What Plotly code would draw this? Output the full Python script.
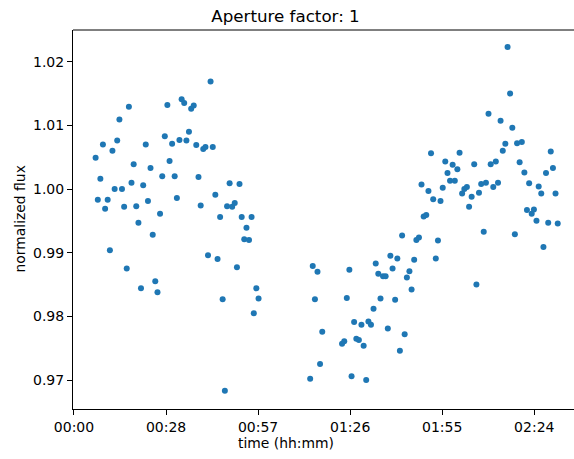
import pandas as pd
import plotly.graph_objects as go

# time since start (minutes) and normalized flux
time_min = [
    6.76, 7.45, 8.25, 9.05, 9.74, 10.54, 11.23, 12.03, 12.72, 13.52,
    14.21, 15.01, 15.69, 16.50, 17.18, 17.99, 18.67, 19.48, 20.16, 20.96,
    21.65, 22.45, 23.14, 23.94, 24.63, 25.43, 26.12, 26.92, 27.61, 28.41,
    29.21, 29.90, 30.70, 31.50, 32.19, 32.99, 33.68, 34.48, 35.17, 35.97,
    36.66, 37.46, 38.26, 38.95, 39.64, 40.44, 41.13, 41.93, 42.73, 43.42,
    44.22, 44.91, 45.71, 46.51, 47.20, 47.89, 48.69, 49.49, 50.29, 50.98,
    51.78, 52.47, 53.27, 53.96, 54.76, 55.56, 56.25, 57.05, 57.74,
    73.89, 74.69, 75.38, 76.18, 76.98, 77.67,
    83.86, 84.55, 85.35, 86.15, 86.84, 87.64, 88.33, 89.13, 89.93, 90.62,
    91.42, 92.11, 92.91, 93.71, 94.40, 95.20, 95.89, 96.69, 97.49, 98.18,
    98.98, 99.67, 100.47, 101.16, 101.96, 102.65, 103.45, 104.14, 104.94, 105.62,
    106.43, 107.11, 107.92, 108.72, 109.40, 110.21, 110.89, 111.70, 112.38, 113.19,
    113.87, 114.67, 115.36, 116.16, 116.85, 117.65, 118.46, 119.14, 119.94, 120.63,
    121.43, 122.12, 122.92, 123.61, 124.41, 125.21, 125.90, 126.70, 127.39, 128.19,
    128.88, 129.68, 130.37, 131.17, 131.97, 132.66, 133.46, 134.15, 134.95, 135.64,
    136.44, 137.13, 137.93, 138.62, 139.42, 140.11, 140.91, 141.71, 142.40, 143.20,
    143.89, 144.69, 145.38, 146.18, 146.87, 147.67, 148.36, 149.16, 149.84, 150.65,
    151.34,
]

flux = [
    1.0049, 0.9983, 1.0016, 1.0070, 0.9969, 0.9983, 0.9904, 1.0060, 1.0000, 1.0076,
    1.0109, 1.0000, 0.9972, 0.9875, 1.0129, 1.0010, 1.0039, 0.9973, 0.9947, 0.9844,
    1.0006, 1.0070, 0.9981, 1.0033, 0.9928, 0.9855, 0.9838, 0.9961, 1.0020, 1.0083,
    1.0132, 1.0044, 1.0071, 1.0020, 0.9986, 1.0077, 1.0141, 1.0135, 1.0076, 1.0090,
    1.0126, 1.0131, 1.0069, 1.0019, 0.9974, 1.0063, 1.0066, 0.9896, 1.0169, 1.0066,
    0.9991, 0.9890, 0.9956, 0.9827, 0.9683, 0.9973, 1.0009, 0.9972, 0.9978, 0.9877,
    1.0008, 0.9956, 0.9921, 0.9939, 0.9920, 0.9956, 0.9805, 0.9844, 0.9828,
    0.9702, 0.9879, 0.9827, 0.9870, 0.9725, 0.9776,
    0.9757, 0.9761, 0.9829, 0.9873, 0.9706, 0.9791, 0.9765, 0.9763, 0.9787, 0.9754,
    0.9700, 0.9792, 0.9787, 0.9812, 0.9883, 0.9867, 0.9828, 0.9863, 0.9863, 0.9781,
    0.9895, 0.9875, 0.9826, 0.9891, 0.9746, 0.9927, 0.9772, 0.9861, 0.9871, 0.9842,
    0.9889, 0.9920, 0.9924, 1.0007, 0.9957, 0.9959, 0.9997, 1.0056, 0.9984, 0.9891,
    0.9919, 0.9981, 1.0002, 1.0043, 1.0025, 1.0013, 1.0038, 1.0013, 1.0031, 1.0057,
    0.9993, 1.0000, 1.0003, 0.9972, 0.9988, 1.0039, 0.9850, 0.9994, 1.0008, 0.9933,
    1.0010, 1.0118, 1.0039, 1.0003, 1.0043, 1.0010, 1.0107, 1.0060, 1.0071, 1.0223,
    1.0150, 1.0096, 0.9929, 1.0072, 1.0042, 1.0074, 1.0026, 0.9967, 1.0009, 0.9961,
    0.9968, 0.9950, 1.0004, 0.9993, 0.9909, 1.0025, 0.9947, 1.0059, 1.0033, 0.9993,
    0.9946,
]

title_text = "Aperture factor: 1"
x_label = "time (hh:mm)"
y_label = "normalized flux"

base = pd.Timestamp("2000-01-01 00:00:00")
times = [base + pd.Timedelta(minutes=m) for m in time_min]

x_lo = base + pd.Timedelta(minutes=-0.31)
x_hi = base + pd.Timedelta(minutes=156.43)

font_family = "DejaVu Sans"

fig = go.Figure()
fig.add_trace(go.Scatter(
    x=times, y=flux, mode="markers",
    marker=dict(size=6, color="#1f77b4", line=dict(width=0)),
    showlegend=False,
))

fig.update_layout(
    width=574, height=459,
    margin=dict(l=73, r=0, t=30, b=50),
    paper_bgcolor="white", plot_bgcolor="white",
    font=dict(family=font_family, size=14, color="black"),
    title=dict(text=title_text, x=285.5 / 574, xref="container", xanchor="center",
               y=1 - 16 / 459, yref="container", yanchor="middle",
               font=dict(family=font_family, size=16.7, color="black")),
    xaxis=dict(
        type="date", range=[x_lo, x_hi],
        tick0=base, dtick=1728000, tickformat="%H:%M",
        showgrid=False, zeroline=False,
        showline=True, linecolor="black", linewidth=1,
        ticks="outside", ticklen=5, tickwidth=1, tickcolor="black",
        tickfont=dict(family=font_family, size=14, color="black"),
    ),
    yaxis=dict(
        range=[0.96545, 1.02497],
        dtick=0.01, tick0=0.97, tickformat=".2f",
        showgrid=False, zeroline=False,
        showline=True, linecolor="black", linewidth=1,
        ticks="outside", ticklen=5, tickwidth=1, tickcolor="black",
        tickfont=dict(family=font_family, size=14, color="black"),
    ),
    shapes=[dict(type="line", xref="paper", yref="paper", x0=0, x1=1, y0=1, y1=1,
                 line=dict(color="black", width=1))],
    annotations=[
        dict(text=x_label, xref="paper", yref="paper",
             x=(285.5 - 73) / 501, y=(409 - 443.5) / 379,
             xanchor="center", yanchor="middle", showarrow=False,
             font=dict(family=font_family, size=13.9, color="black")),
        dict(text=y_label, xref="paper", yref="paper",
             x=(19 - 73) / 501, y=0.5, textangle=-90,
             xanchor="center", yanchor="middle", showarrow=False,
             font=dict(family=font_family, size=13.9, color="black")),
    ],
)

fig.write_html("out.html", config={"displayModeBar": False},
               post_script="document.body.style.margin='0';")
